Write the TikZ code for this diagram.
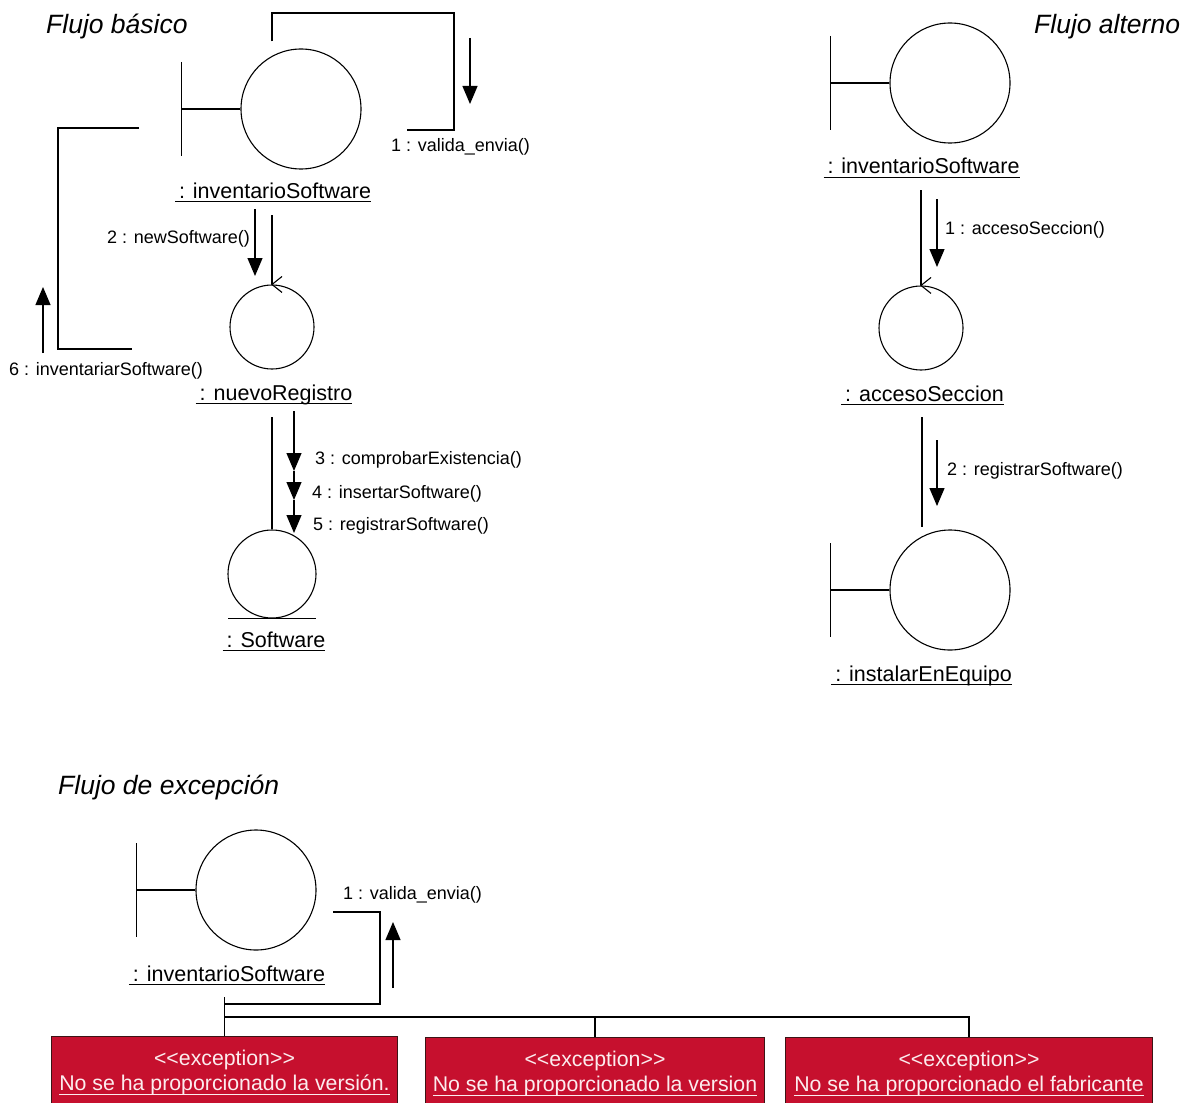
\documentclass[tikz,border=0pt]{standalone}
\usepackage{fontspec}
\setmainfont{Liberation Sans}
\usetikzlibrary{arrows.meta}

\definecolor{excred}{RGB}{198,16,46}
\definecolor{excedge}{RGB}{60,20,22}
\definecolor{exctext}{RGB}{252,236,238}

% underlined object name, rule a few points under the baseline
\newcommand\ulin[1]{\setbox0=\hbox{#1}\rlap{\rule[-4.2pt]{\wd0}{1.1pt}}\box0}
\newcommand\titlefont{\fontsize{26.5}{30}\selectfont\itshape}
\newcommand\objfont{\fontsize{21.5}{24}\selectfont}
\newcommand\msgfont{\fontsize{18}{20}\selectfont}
\newcommand\excfont{\fontsize{21.3}{25}\selectfont}

\tikzset{
  sym/.style={circle, draw, line width=1.1pt, inner sep=0pt},
  bnd/.style={sym, minimum size=120pt},
  ctl/.style={sym, minimum size=84pt},
  ent/.style={sym, minimum size=88pt},
  objlbl/.style={font=\objfont, inner sep=0pt, anchor=base},
  msglbl/.style={font=\msgfont, inner sep=0pt},
  title/.style={font=\titlefont, inner sep=0pt, anchor=west},
  link/.style={line width=1.1pt},
  msg/.style={line width=1.2pt, -{Triangle[length=18pt,width=15pt]}},
  excbox/.style={rectangle, fill=excred, draw=excedge, line width=1pt,
    anchor=north west, align=center, text=exctext, font=\excfont, inner sep=0pt,
    minimum height=72pt},
  % boundary stick: bar and stub to the left of the circle
  bndbar/.style={insert path={
      (#1.west) -- ++(-59,0) ++(0,-47) -- ++(0,94)}},
  % control arrowhead on top of the circle
  ctlmark/.style={insert path={
      ([shift={(10,-8)}]#1.north) -- (#1.north) -- ([shift={(10,8)}]#1.north)}},
}

\begin{document}
\begin{tikzpicture}[x=1pt,y=-1pt]
\useasboundingbox[fill=white] (0,0) rectangle (1190,1102);

% ---------------- Flujo basico ----------------
\node[title] (t1) at (46,26) {Flujo básico};

\node[bnd] (bIS) at (301,109) {};
\draw[link, bndbar=bIS];
\node[objlbl] (bISl) at (273,198) {\ulin{\kern4pt: inventarioSoftware}};

\node[ctl] (cNR) at (272,327) {};
\draw[link, ctlmark=cNR];
\node[objlbl] (cNRl) at (274,400) {\ulin{\kern4pt: nuevoRegistro}};

\node[ent] (eSW) at (272,574) {};
\draw[link] ([xshift=-44]eSW.south) -- ([xshift=44]eSW.south);
\node[objlbl] (eSWl) at (274,647) {\ulin{\kern4pt: Software}};

% self link on inventarioSoftware
\draw[link] (bIS.north -| 272,0) ++(0,-7) -- (272,13) -- (454,13) -- (454,130) -- (407,130);
\draw[msg] (470,38) -- (470,104);
\node[msglbl, anchor=west] (m1) at (391,147) {1 : valida\_envia()};

% inventarioSoftware -- nuevoRegistro
\draw[link] (cNR.north |- 0,215) -- (cNR.north);
\draw[msg] (255,209) -- (255,276);
\node[msglbl, anchor=east] (m2) at (250,239) {2 : newSoftware()};

% nuevoRegistro -- inventarioSoftware (return link)
\draw[link] (139,128) -- (58,128) -- (58,349) -- (132,349);
\draw[msg] (43,353) -- (43,287);
\node[msglbl, anchor=west] (m6) at (9,371) {6 : inventariarSoftware()};

% nuevoRegistro -- Software
\draw[link] (eSW.north |- 0,417) -- (eSW.north);
\draw[msg] (294,411) -- (294,471);
\draw[msg] (294,471) -- (294,500);
\draw[msg] (294,500) -- (294,533);
\node[msglbl, anchor=west] (m3) at (315,460) {3 : comprobarExistencia()};
\node[msglbl, anchor=west] (m4) at (312,494) {4 : insertarSoftware()};
\node[msglbl, anchor=west] (m5) at (313,526) {5 : registrarSoftware()};

% ---------------- Flujo alterno ----------------
\node[title] (t2) at (1034,27) {Flujo alterno};

\node[bnd] (aIS) at (950,83) {};
\draw[link, bndbar=aIS];
\node[objlbl] (aISl) at (921.5,174) {\ulin{\kern4pt: inventarioSoftware}};

\node[ctl] (aAS) at (921,328) {};
\draw[link, ctlmark=aAS];
\node[objlbl] (aASl) at (922.5,401) {\ulin{\kern4pt: accesoSeccion}};

\node[bnd] (aIE) at (950,590) {};
\draw[link, bndbar=aIE];
\node[objlbl] (aIEl) at (921.5,681) {\ulin{\kern4pt: instalarEnEquipo}};

\draw[link] (aAS.north |- 0,190) -- (aAS.north);
\draw[msg] (937,199) -- (937,267);
\node[msglbl, anchor=west] (a1) at (945,230) {1 : accesoSeccion()};

\draw[link] (922,417) -- (922,527);
\draw[msg] (937,440) -- (937,506);
\node[msglbl, anchor=west] (a2) at (947,471) {2 : registrarSoftware()};

% ---------------- Flujo de excepcion ----------------
\node[title] (t3) at (58,787) {Flujo de excepción};

\node[bnd] (eIS) at (256,890) {};
\draw[link, bndbar=eIS];
\node[objlbl] (eISl) at (227,981) {\ulin{\kern4pt: inventarioSoftware}};

\node[excbox, minimum width=346pt] (x1) at (51,1036)
  {<\kern0pt<exception>\kern0pt>\\\ulin{No se ha proporcionado la versión.}};
\node[excbox, minimum width=339pt] (x2) at (425,1037)
  {<\kern0pt<exception>\kern0pt>\\\ulin{No se ha proporcionado la version}};
\node[excbox, minimum width=367pt] (x3) at (785,1037)
  {<\kern0pt<exception>\kern0pt>\\\ulin{No se ha proporcionado el fabricante}};

\draw[link] (333,912) -- (380,912) -- (380,1004) -- (x1.north |- 0,1004) -- (x1.north |- 0,997);
\draw[msg] (393,988) -- (393,922);
\node[msglbl, anchor=west] (e1) at (343,895) {1 : valida\_envia()};

\draw[link] (x1.north |- 0,1004) -- (x1.north);
\draw[link] (x1.north |- 0,1017) -- (x3.north |- 0,1017) -- (x3.north);
\draw[link] (x2.north |- 0,1017) -- (x2.north);
\end{tikzpicture}
\end{document}
